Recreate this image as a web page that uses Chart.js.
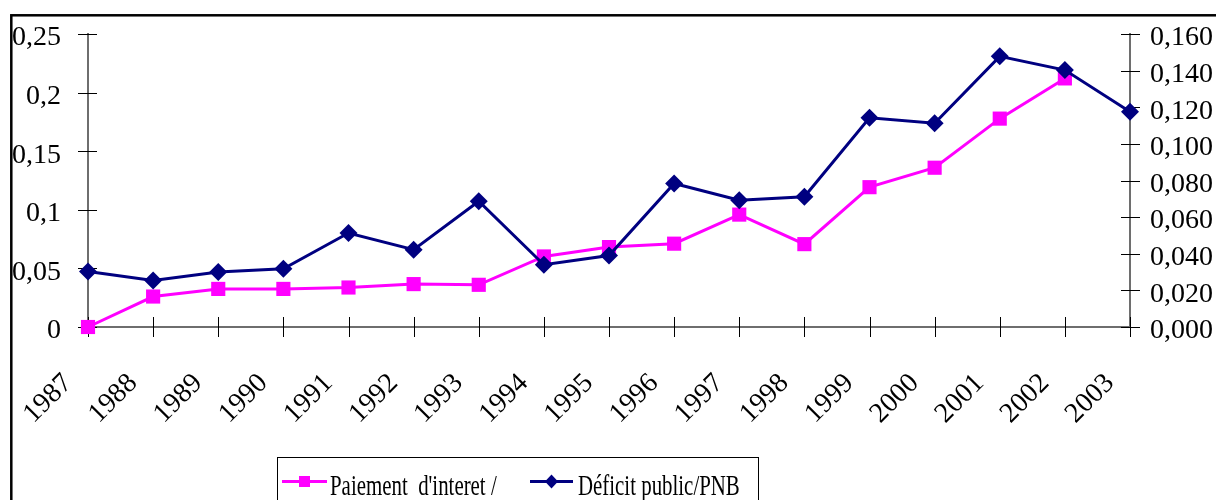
<!DOCTYPE html>
<html><head><meta charset="utf-8">
<script src="https://cdn.jsdelivr.net/npm/chart.js@4.4.0/dist/chart.umd.min.js"></script>
<style>html,body{margin:0;padding:0;background:#fff;}canvas{display:block}</style>
</head><body>
<canvas id="c" width="1216" height="500"></canvas>
<script>
const years = ['1987','1988','1989','1990','1991','1992','1993','1994','1995','1996','1997','1998','1999','2000','2001','2002','2003'];
const paiementInteret = [0, 0.026, 0.0325, 0.0325, 0.0337, 0.0366, 0.036, 0.0602, 0.0682, 0.0711, 0.0959, 0.0707, 0.1193, 0.1359, 0.1778, 0.2121, null];
const deficitPublic = [0.0303, 0.0254, 0.030, 0.0318, 0.0513, 0.0422, 0.0687, 0.034, 0.039, 0.0784, 0.0692, 0.0711, 0.1143, 0.1113, 0.1478, 0.1403, 0.1176];
const leftTickLabels = ['0','0,05','0,1','0,15','0,2','0,25'];
const rightTickLabels = ['0,000','0,020','0,040','0,060','0,080','0,100','0,120','0,140','0,160'];
const seriesNames = ["Paiement  d'interet /", 'Déficit public/PNB'];

const PINK = '#FF00FF', NAVY = '#000080';
const FONT = '"Liberation Serif", "Times New Roman", serif';

function noPad(s) { s.paddingTop = 0; s.paddingBottom = 0; s.paddingLeft = 0; s.paddingRight = 0; }

const framePlugin = {
  id: 'frame',
  beforeDraw(chart) {
    const ctx = chart.ctx;
    ctx.save(); ctx.fillStyle = '#fff'; ctx.fillRect(0, 0, chart.width, chart.height); ctx.restore();
  },
  beforeDatasetsDraw(chart) {
    const ctx = chart.ctx, x = chart.scales.x, yl = chart.scales.yl, yr = chart.scales.yr;
    ctx.save();
    ctx.strokeStyle = '#000'; ctx.lineWidth = 1;
    ctx.beginPath();
    x.ticks.forEach((t, i) => { const p = Math.round(x.getPixelForTick(i)) + 0.5; ctx.moveTo(p, x.top - 10); ctx.lineTo(p, x.top + 10); });
    yl.ticks.forEach((t, i) => { const p = Math.round(yl.getPixelForTick(i)) + 0.5; ctx.moveTo(yl.right - 10, p); ctx.lineTo(yl.right + 9, p); });
    yr.ticks.forEach((t, i) => { const p = Math.round(yr.getPixelForTick(i)) + 0.5; ctx.moveTo(yr.left - 9, p); ctx.lineTo(yr.left + 10, p); });
    ctx.stroke();
    ctx.restore();
  },
  afterDraw(chart) {
    const ctx = chart.ctx;
    ctx.save();
    ctx.strokeStyle = '#000'; ctx.lineWidth = 2.5;
    ctx.strokeRect(11.3, 15.3, 1400, 700);
    ctx.lineWidth = 1;
    ctx.strokeRect(277.5, 457.5, 481, 80);
    const items = [
      { name: seriesNames[0], color: PINK, style: 'rect', x0: 282, x1: 327, tx: 330 },
      { name: seriesNames[1], color: NAVY, style: 'diamond', x0: 530, x1: 573, tx: 578 }
    ];
    const cy = 481.5;
    items.forEach(it => {
      ctx.strokeStyle = it.color; ctx.fillStyle = it.color; ctx.lineWidth = 3;
      ctx.beginPath(); ctx.moveTo(it.x0, cy); ctx.lineTo(it.x1, cy); ctx.stroke();
      const cx = (it.x0 + it.x1) / 2;
      ctx.beginPath();
      if (it.style === 'rect') { ctx.rect(cx - 5.5, cy - 5.5, 11, 11); }
      else { ctx.moveTo(cx, cy - 7); ctx.lineTo(cx + 6.5, cy); ctx.lineTo(cx, cy + 7); ctx.lineTo(cx - 6.5, cy); ctx.closePath(); }
      ctx.fill();
      ctx.save();
      ctx.fillStyle = '#000';
      ctx.font = '29px ' + FONT;
      ctx.textBaseline = 'alphabetic';
      ctx.translate(it.tx, 495);
      ctx.scale(0.72, 1);
      ctx.fillText(it.name, 0, 0);
      ctx.restore();
    });
    ctx.restore();
  }
};

new Chart(document.getElementById('c'), {
  type: 'line',
  data: {
    labels: years,
    datasets: [
      { label: seriesNames[0], data: paiementInteret, yAxisID: 'yl', order: 1,
        borderColor: PINK, backgroundColor: PINK, borderWidth: 3,
        pointStyle: 'rect', pointRadius: 10, pointBorderWidth: 0, pointBackgroundColor: PINK,
        tension: 0, clip: false },
      { label: seriesNames[1], data: deficitPublic, yAxisID: 'yr', order: 0,
        borderColor: NAVY, backgroundColor: NAVY, borderWidth: 3,
        pointStyle: 'rectRot', pointRadius: 9, pointBorderWidth: 0, pointBackgroundColor: NAVY,
        tension: 0, clip: false }
    ]
  },
  options: {
    responsive: false,
    animation: false,
    devicePixelRatio: 1,
    layout: { padding: { top: 34, left: 0, right: 0, bottom: 0 } },
    plugins: { legend: { display: false }, tooltip: { enabled: false } },
    scales: {
      x: {
        type: 'category', offset: false,
        grid: { display: true, drawOnChartArea: false, drawTicks: false },
        border: { display: true, color: '#6e6e6e', width: 2 },
        ticks: { color: '#000', font: { family: FONT, size: 28 }, autoSkip: false,
          minRotation: 45, maxRotation: 45, padding: 40, labelOffset: -20 },
        afterFit(s) { s.height = 173; noPad(s); }
      },
      yl: {
        type: 'linear', position: 'left', min: 0, max: 0.25,
        grid: { display: true, drawOnChartArea: false, drawTicks: false },
        border: { display: true, color: '#6e6e6e', width: 2 },
        ticks: { stepSize: 0.05, autoSkip: false, color: '#000', font: { family: FONT, size: 28 }, padding: 27, labelOffset: 4,
          callback: (v, i) => leftTickLabels[i] },
        afterFit(s) { s.width = 88; noPad(s); }
      },
      yr: {
        type: 'linear', position: 'right', min: 0, max: 0.16,
        grid: { display: true, drawOnChartArea: false, drawTicks: false },
        border: { display: true, color: '#6e6e6e', width: 2 },
        ticks: { stepSize: 0.02, autoSkip: false, color: '#000', font: { family: FONT, size: 28 }, padding: 20, labelOffset: 4,
          callback: (v, i) => rightTickLabels[i] },
        afterFit(s) { s.width = 86; noPad(s); }
      }
    }
  },
  plugins: [framePlugin]
});
</script>
</body></html>
